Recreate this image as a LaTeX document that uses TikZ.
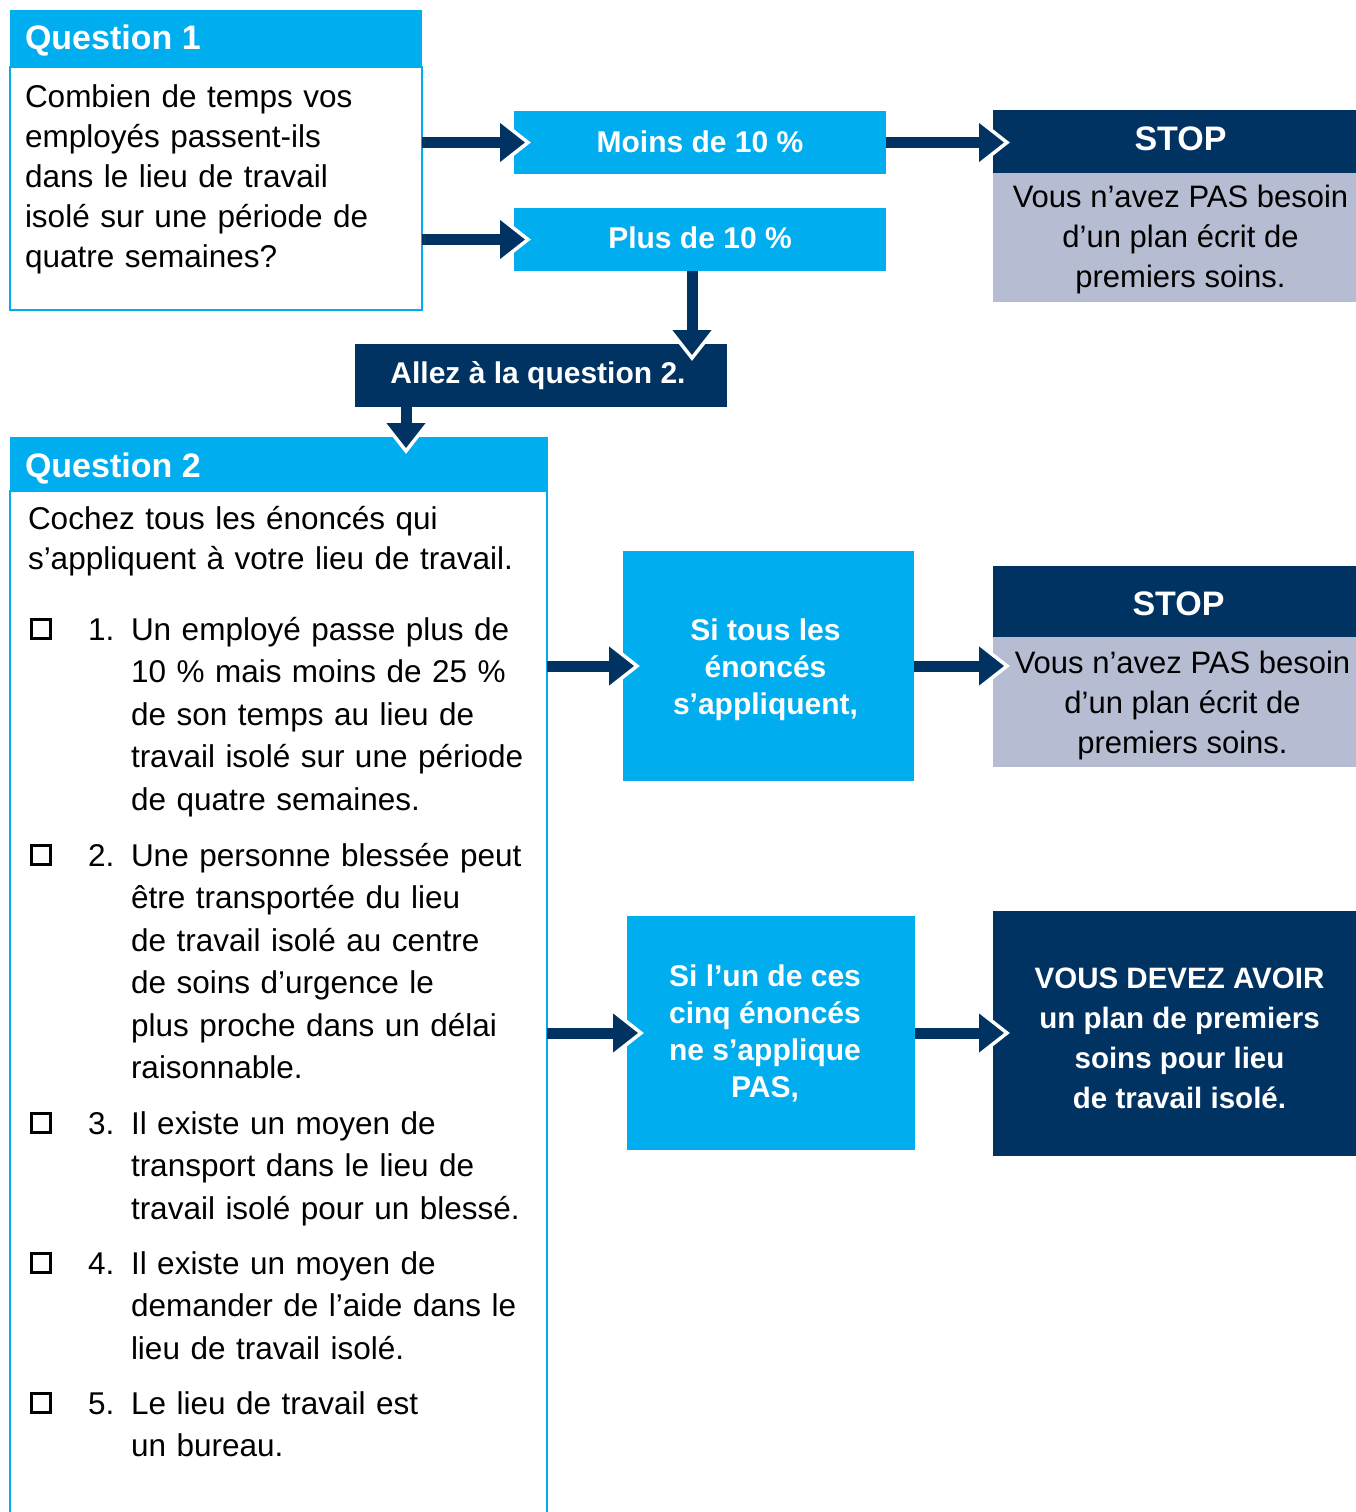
\documentclass[tikz,border=0pt]{standalone}
\usepackage{fontspec}
\setmainfont{Liberation Sans}
\usetikzlibrary{calc}
\definecolor{cyanq}{HTML}{00AEEF}
\definecolor{navy}{HTML}{003362}
\definecolor{grayb}{HTML}{B6BCD1}
\newcommand\fbody{\fontsize{31.5}{40}\selectfont}
\newcommand\fitem{\fontsize{31.5}{42.5}\selectfont}
\newcommand\fhead{\fontsize{34}{40}\selectfont\bfseries}
\newcommand\fbx{\fontsize{30}{37}\selectfont\bfseries}
\begin{document}
\begin{tikzpicture}[x=1pt,y=-1pt,
  every node/.style={inner sep=0pt,outer sep=0pt},
  rect/.style={anchor=north west,rectangle},
  cyanbox/.style={rect,fill=cyanq},
  navybox/.style={rect,fill=navy},
  graybox/.style={rect,fill=grayb},
  wtxt/.style={text=white,align=center,font=\fbx},
  gtxt/.style={text=black,align=center,font=\fontsize{31}{40}\selectfont},
  headtxt/.style={anchor=base west,text=white,font=\fhead},
  bodytxt/.style={anchor=base west,text=black,align=left,font=\fbody},
  itemtxt/.style={anchor=base west,text=black,align=left,font=\fitem},
  chk/.style={draw=black,line width=2.8pt,minimum size=19pt,anchor=center},
  shaft/.style={line width=11pt,draw=navy},
  head/.style={draw=white,line width=3.5pt,fill=navy,line join=miter}
]
\useasboundingbox (0,0) rectangle (1356,1512);

% ---------- Question 1 ----------
\node[rect,draw=cyanq,line width=2.5pt,minimum width=412,minimum height=243] (q1b) at (10,67) {};
\node[rect,fill=cyanq,minimum width=412,minimum height=57] (q1h) at (10,10) {};
\node[headtxt] (q1t) at (25,50) {Question 1};
\node[bodytxt,text width=395] (q1q) at (25,107) {Combien de temps vos\\employés passent-ils\\dans le lieu de travail\\isolé sur une période de\\quatre semaines?};

% ---------- answers Q1 ----------
\node[cyanbox,minimum width=372,minimum height=63] (moins) at (514,111) {};
\node[wtxt] (moinst) at ([yshift=1]moins.center) {Moins de 10 \%};
\node[cyanbox,minimum width=372,minimum height=63] (plus) at (514,208) {};
\node[wtxt] (plust) at ([yshift=2]plus.center) {Plus de 10 \%};
\node[navybox,minimum width=372,minimum height=63] (allez) at (355,344) {};
\node[wtxt] (allezt) at ([xshift=-3]allez.center) {Allez à la question 2.};

% ---------- STOP 1 ----------
\node[navybox,minimum width=363,minimum height=63] (stop1h) at (993,110) {};
\node[wtxt,font=\fhead] (stop1ht) at ([xshift=6,yshift=3]stop1h.center) {STOP};
\node[graybox,minimum width=363,minimum height=129] (stop1b) at (993,173) {};
\node[gtxt] (stop1bt) at ([xshift=6,yshift=-2]stop1b.center) {Vous n’avez PAS besoin\\d’un plan écrit de\\premiers soins.};

% ---------- Question 2 ----------
\node[rect,draw=cyanq,line width=2.5pt,minimum width=537,minimum height=1060] (q2b) at (10,491) {};
\node[rect,fill=cyanq,minimum width=538,minimum height=54] (q2h) at (10,437) {};
\node[headtxt] (q2t) at (25,477) {Question 2};
\node[bodytxt,text width=505] (q2q) at (28,529) {Cochez tous les énoncés qui\\s’appliquent à votre lieu de travail.};

\node[chk] (c1) at (41,629) {};
\node[itemtxt] (n1) at (88,640) {1.};
\node[itemtxt,text width=412] (t1) at (131,640) {Un employé passe plus de\\10 \% mais moins de 25 \%\\de son temps au lieu de\\travail isolé sur une période\\de quatre semaines.};

\node[chk] (c2) at (41,855) {};
\node[itemtxt] (n2) at (88,866) {2.};
\node[itemtxt,text width=412] (t2) at (131,866) {Une personne blessée peut\\être transportée du lieu\\de travail isolé au centre\\de soins d’urgence le\\plus proche dans un délai\\raisonnable.};

\node[chk] (c3) at (41,1123) {};
\node[itemtxt] (n3) at (88,1134) {3.};
\node[itemtxt,text width=412] (t3) at (131,1134) {Il existe un moyen de\\transport dans le lieu de\\travail isolé pour un blessé.};

\node[chk] (c4) at (41,1263) {};
\node[itemtxt] (n4) at (88,1274) {4.};
\node[itemtxt,text width=412] (t4) at (131,1274) {Il existe un moyen de\\demander de l’aide dans le\\lieu de travail isolé.};

\node[chk] (c5) at (41,1403) {};
\node[itemtxt] (n5) at (88,1414) {5.};
\node[itemtxt,text width=412] (t5) at (131,1414) {Le lieu de travail est\\un bureau.};

% ---------- answers Q2 ----------
\node[cyanbox,minimum width=291,minimum height=230] (sitous) at (623,551) {};
\node[wtxt] (sitoust) at ([xshift=-3,yshift=-4]sitous.center) {Si tous les\\énoncés\\s’appliquent,};
\node[cyanbox,minimum width=288,minimum height=234] (siun) at (627,916) {};
\node[wtxt] (siunt) at ([xshift=-6,yshift=0]siun.center) {Si l’un de ces\\cinq énoncés\\ne s’applique\\PAS,};

\node[navybox,minimum width=363,minimum height=71] (stop2h) at (993,566) {};
\node[wtxt,font=\fhead] (stop2ht) at ([xshift=4,yshift=-2]stop2h.center) {STOP};
\node[graybox,minimum width=363,minimum height=130] (stop2b) at (993,637) {};
\node[gtxt] (stop2bt) at ([xshift=8,yshift=-3]stop2b.center) {Vous n’avez PAS besoin\\d’un plan écrit de\\premiers soins.};

\node[navybox,minimum width=363,minimum height=245] (vous) at (993,911) {};
\node[wtxt,font={\fontsize{29.5}{40}\selectfont\bfseries}] (voust) at ([xshift=5,yshift=-5]vous.center) {VOUS DEVEZ AVOIR\\un plan de premiers\\soins pour lieu\\de travail isolé.};

% ---------- connectors ----------
\coordinate (a4s) at ($(plus.south)+(-8,0)$);
\coordinate (a5s) at ($(allez.south west)+(51,0)$);
\foreach \s/\e in {
  {q1b.east |- moins.west}/{moins.west},
  {q1b.east |- plus.west}/{plus.west},
  {moins.east}/{moins.east -| stop1h.west},
  {a4s}/{a4s |- allez.north},
  {a5s}/{a5s |- q2h.north},
  {q2b.east |- sitous.west}/{sitous.west},
  {sitous.east}/{sitous.east -| stop2b.west},
  {q2b.east |- siun.west}/{siun.west},
  {siun.east}/{siun.east -| vous.west}}
{
  \coordinate (S) at (\s);
  \coordinate (E) at (\e);
  \coordinate (T) at ($(E)!-14pt!(S)$);
  \coordinate (B) at ($(T)!28pt!(S)$);
  \draw[shaft] (S) -- ($(T)!24pt!(S)$);
  \draw[head] ($(B)!22pt!90:(T)$) -- (T) -- ($(B)!22pt!-90:(T)$);
}
\end{tikzpicture}
\end{document}
